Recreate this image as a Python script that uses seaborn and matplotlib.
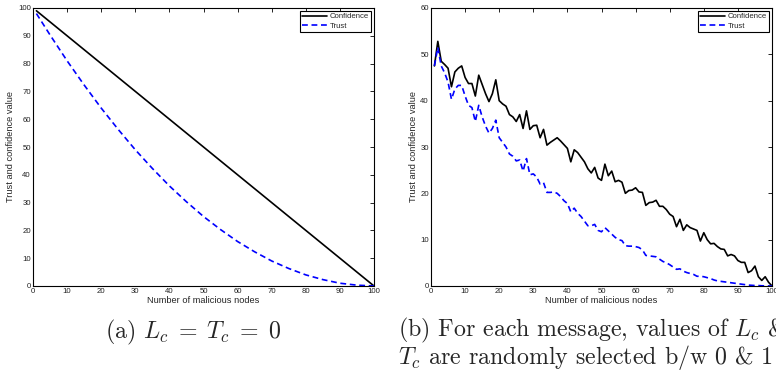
import numpy as np
import pandas as pd
import matplotlib
matplotlib.use("Agg")
import matplotlib.pyplot as plt
import seaborn as sns

# (a) L_c = T_c = 0
nodes_a = [1, 5, 10, 15, 20, 25, 30, 35, 40, 45, 50, 55, 60, 65, 70, 75, 80, 85, 90, 95, 100]
conf_a = [99, 95, 90, 85, 80, 75, 70, 65, 60, 55, 50, 45, 40, 35, 30, 25, 20, 15, 10, 5, 0]
trust_a = [98, 90.3, 81, 72.3, 64, 56.3, 49, 42.3, 36, 30.3, 25, 20.3, 16, 12.3, 9,
           6.3, 4, 2.3, 1, 0.3, 0]

# (b) random L_c, T_c -- one value per node count 1..100
nodes_b = list(range(1, 101))
conf_b = [47.5, 52.8, 48.5, 47.8, 47.0, 43.0, 46.2, 47.0, 47.5, 45.0,
          43.7, 43.7, 41.0, 45.5, 43.5, 41.5, 39.8, 41.5, 44.5, 40.0,
          39.3, 38.8, 37.0, 36.5, 35.5, 37.0, 34.0, 37.8, 33.8, 34.6,
          34.7, 32.0, 33.8, 30.4, 31.0, 31.5, 32.0, 31.3, 30.5, 29.7,
          26.8, 29.4, 28.8, 27.8, 26.8, 25.3, 24.4, 25.6, 23.3, 22.8,
          26.3, 23.8, 24.8, 22.5, 22.8, 22.4, 20.0, 20.6, 20.7, 21.2,
          20.3, 20.2, 17.4, 18.0, 18.1, 18.5, 17.2, 17.2, 16.5, 15.5,
          15.0, 12.8, 14.4, 12.0, 13.2, 12.6, 12.3, 12.0, 9.7, 11.5,
          10.0, 9.1, 9.2, 8.5, 8.0, 7.9, 6.5, 6.8, 6.5, 5.5,
          5.1, 5.1, 2.9, 3.3, 4.3, 2.0, 1.2, 2.0, 0.8, 0.0]
trust_b = [47.5, 51.5, 47.5, 46.0, 44.0, 40.3, 42.5, 43.3, 43.3, 41.0,
           39.0, 38.5, 35.5, 39.0, 36.5, 34.5, 33.0, 34.0, 35.8, 32.0,
           31.0, 30.0, 28.5, 28.0, 27.0, 27.2, 24.8, 27.5, 24.0, 24.2,
           23.5, 22.0, 22.3, 20.2, 20.2, 20.3, 20.0, 19.3, 18.4, 17.8,
           16.0, 16.8, 15.7, 15.0, 14.0, 13.0, 13.0, 13.3, 12.0, 11.7,
           12.6, 11.9, 11.2, 10.5, 10.0, 9.8, 8.7, 8.6, 8.6, 8.5,
           8.3, 7.8, 6.6, 6.5, 6.4, 6.3, 5.8, 5.3, 5.0, 4.6,
           4.1, 3.6, 3.7, 3.2, 2.9, 2.7, 2.5, 2.1, 2.1, 2.0,
           1.8, 1.6, 1.3, 1.1, 1.0, 0.9, 0.8, 0.7, 0.6, 0.5,
           0.4, 0.3, 0.2, 0.15, 0.1, 0.1, 0.05, 0.03, 0.01, 0.0]

sns.set_style("white")
plt.rcParams['font.family'] = ['Liberation Sans', 'DejaVu Sans']
plt.rcParams['mathtext.fontset'] = 'cm'
plt.rcParams['axes.linewidth'] = 0.8
plt.rcParams['axes.edgecolor'] = 'black'

fig = plt.figure(figsize=(7.76, 3.74), dpi=100)
ax_a = fig.add_axes([33 / 776, 1 - 286 / 374, 341 / 776, 278 / 374])
ax_b = fig.add_axes([431 / 776, 1 - 286 / 374, 341 / 776, 278 / 374])


def draw(ax, x, conf, trust, ymax):
    df = pd.DataFrame({"n": x, "Confidence": conf, "Trust": trust})
    sns.lineplot(data=df, x="n", y="Confidence", ax=ax, color="black",
                 linewidth=1.2, label="Confidence")
    sns.lineplot(data=df, x="n", y="Trust", ax=ax, color="blue",
                 linewidth=1.2, linestyle=(0, (3.5, 2.2)), label="Trust")
    ax.set_xlim(0, 100)
    ax.set_ylim(0, ymax)
    ax.set_xticks(np.arange(0, 101, 10))
    ax.set_yticks(np.arange(0, ymax + 1, 10))
    ax.tick_params(direction="in", length=3, width=0.6, labelsize=5.6, pad=1.5,
                   top=True, right=True, colors="black", labelcolor="#222222")
    ax.set_xlabel("Number of malicious nodes", fontsize=6.7, labelpad=0.5)
    ax.set_ylabel("Trust and confidence value", fontsize=6.7, labelpad=2)
    for s in ax.spines.values():
        s.set_visible(True)
        s.set_color("black")
    leg = ax.legend(loc="upper right", fontsize=5.6, handlelength=3.2,
                    labelspacing=0.25, borderpad=0.3, handletextpad=0.3,
                    fancybox=False, framealpha=1, borderaxespad=0.35)
    leg.get_frame().set_edgecolor("black")
    leg.get_frame().set_linewidth(0.8)


draw(ax_a, nodes_a, conf_a, trust_a, 100)
draw(ax_b, nodes_b, conf_b, trust_b, 60)

fig.text(193 / 776, 1 - 332 / 374, r"(a) $L_c\;=\;T_c\;=\;0$", fontsize=17.2,
         family="cmr10", ha="center", va="center")
fig.text(398 / 776, 1 - 330 / 374, r"(b) For each message, values of $L_c$ &",
         fontsize=17.2, family="cmr10", ha="left", va="center")
fig.text(398 / 776, 1 - 357 / 374, r"$T_c$ are randomly selected b/w 0 & 1",
         fontsize=17.2, family="cmr10", ha="left", va="center")

fig.savefig("out.png", dpi=100)
